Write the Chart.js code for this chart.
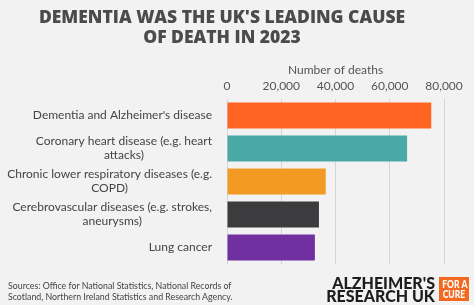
<!DOCTYPE html>
<html>
<head>
<meta charset="utf-8">
<script src="https://cdn.jsdelivr.net/npm/chart.js@4"></script>
<style>
  html, body { margin: 0; padding: 0; background: #f2f2f2; }
  #wrap { position: relative; width: 474px; height: 305px; overflow: hidden; }
  #sources { position: absolute; left: 8px; top: 281px; font: 8.8px/10.5px Lato, sans-serif; color: #444; white-space: nowrap; }
  #logo { position: absolute; right: 39px; top: 276px; font: 900 16px/13px Lato, sans-serif; color: #1d1d1d; text-align: right; white-space: nowrap; }
  #cure { position: absolute; left: 439px; top: 277px; width: 30px; height: 24px; background: #f26a21; overflow: hidden; }
  #cure span { display: block; width: 30px; text-align: center; color: #fff; white-space: nowrap;
               font: 900 11px/10px Lato, sans-serif; transform: scaleX(0.78); margin-top: 2px; }
  #cure span + span { margin-top: 0; }
</style>
</head>
<body>
<div id="wrap">
  <canvas id="chart" width="474" height="305"></canvas>
  <div id="sources">Sources: Office for National Statistics, National Records of<br>Scotland, Northern Ireland Statistics and Research Agency.</div>
  <div id="logo">ALZHEIMER'S<br>RESEARCH UK</div>
  <div id="cure"><span>FOR A</span><span>CURE</span></div>
</div>
<script>
const causes = [
  ["Dementia and Alzheimer's disease"],
  ["Coronary heart disease (e.g. heart", "attacks)"],
  ["Chronic lower respiratory diseases (e.g.", "COPD)"],
  ["Cerebrovascular diseases (e.g. strokes,", "aneurysms)"],
  ["Lung cancer"]
];
const deaths = [75300, 66400, 36400, 33900, 32400];
const barColors = ['#ff6422', '#4aa8a7', '#f39a25', '#3c3c3e', '#7030a0'];
const xTicks = [0, 20000, 40000, 60000, 80000];

const labelFont = '12px Lato, sans-serif';

// y labels: block right-aligned, lines centered within the block
const yLabelPlugin = {
  id: 'yLabels',
  afterDraw(chart) {
    const ctx = chart.ctx;
    const y = chart.scales.y;
    ctx.save();
    ctx.font = labelFont;
    ctx.fillStyle = '#444';
    ctx.textAlign = 'center';
    ctx.textBaseline = 'middle';
    const right = chart.chartArea.left - 15;
    const lh = 14;
    causes.forEach((lines, i) => {
      const w = Math.max(...lines.map(l => ctx.measureText(l).width));
      const cy = y.getPixelForTick(i);
      const top = cy - (lines.length - 1) * lh / 2;
      lines.forEach((l, j) => ctx.fillText(l, right - w / 2, top + j * lh));
    });
    ctx.restore();
  }
};

new Chart(document.getElementById('chart'), {
  type: 'bar',
  data: {
    labels: causes,
    datasets: [{
      data: deaths,
      backgroundColor: barColors,
      borderWidth: 0,
      barPercentage: 0.79,
      categoryPercentage: 1
    }]
  },
  options: {
    indexAxis: 'y',
    responsive: false,
    animation: false,
    layout: { padding: { left: 0, right: 30, top: 0, bottom: 41 } },
    plugins: {
      legend: { display: false },
      tooltip: { enabled: false },
      title: {
        display: true,
        text: ["DEMENTIA WAS THE UK'S LEADING CAUSE", "OF DEATH IN 2023"],
        color: '#4b4b4d',
        font: { family: '"Open Sans"', size: 17.5, weight: '800', lineHeight: 1.17 },
        padding: { top: 7.5, bottom: 0 }
      }
    },
    scales: {
      x: {
        position: 'top',
        min: 0,
        max: 80000,
        afterBuildTicks(scale) { scale.ticks = xTicks.map(v => ({ value: v })); },
        afterFit(scale) { scale.height = 50.5; },
        grid: { color: '#d6d6d6', drawTicks: false },
        border: { display: false },
        ticks: {
          color: '#555',
          padding: 6,
          font: { family: 'Lato', size: 12 },
          callback: v => v.toLocaleString('en-GB')
        },
        title: {
          display: true,
          text: 'Number of deaths',
          color: '#555',
          font: { family: 'Lato', size: 12 },
          padding: { top: 14, bottom: 0 }
        }
      },
      y: {
        afterFit(scale) { scale.width = 227; },
        grid: { display: false },
        border: { display: false },
        ticks: { display: false }
      }
    }
  },
  plugins: [yLabelPlugin]
});
</script>
</body>
</html>
